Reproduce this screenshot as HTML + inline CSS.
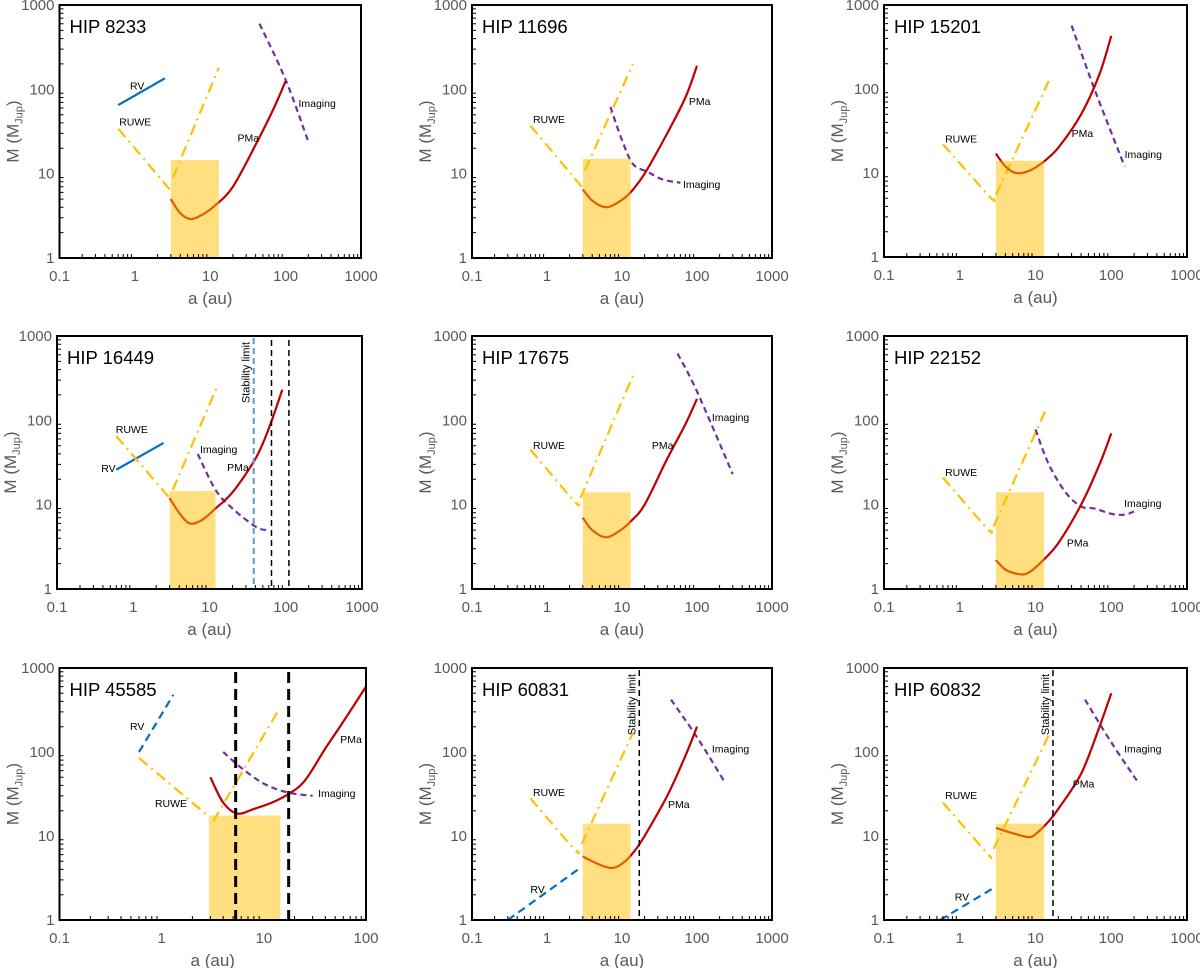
<!DOCTYPE html>
<html><head><meta charset="utf-8"><title>Mass limits</title>
<style>html,body{margin:0;padding:0;background:#fff}svg{display:block}text{font-family:"Liberation Sans",Arial,sans-serif}</style>
</head><body>
<svg id="fig" width="1200" height="968" viewBox="0 0 1200 968" xmlns="http://www.w3.org/2000/svg"></svg>
<script>
// ---- data (a in au, M in MJup) ----
const xTicks1000 = ["0.1","1","10","100","1000"];
const xTicks100 = ["0.1","1","10","100"];
const yTicks = ["1","10","100","1000"];

const p1Rv = [[0.6,65],[2.5,135]];
const p1RuweL = [[0.6,34],[2.9,6.5]];
const p1RuweR = [[3.2,9],[13,180]];
const p1Pma = [[3,5],[4,3.4],[5.5,2.9],[8,3.3],[12,4.3],[20,7],[40,22],[70,60],[100,125]];
const p1Img = [[45,600],[100,130],[200,24]];
const p1Rect = [3,13,14.5];

const p2RuweL = [[0.6,37],[2.9,7]];
const p2RuweR = [[3.2,11],[14,200]];
const p2Pma = [[3,6.5],[4,4.8],[6,4],[9,4.6],[13,6],[20,10],[40,30],[70,80],[100,190]];
const p2Img = [[7,62],[10,25],[14,13],[22,10.5],[35,8.5],[60,7.8]];
const p2Rect = [3,13,15];

const p3RuweL = [[0.6,22],[2.5,5.2],[2.8,5]];
const p3RuweR = [[3,5.5],[15,125]];
const p3Pma = [[3,17],[4,12],[5.5,10],[8,10.5],[12,13],[20,20],[40,50],[70,150],[100,430]];
const p3Img = [[30,570],[60,100],[150,12]];
const p3Rect = [3,13,14];

const p4Rv = [[0.6,26],[2.5,54]];
const p4RuweL = [[0.6,65],[3,12]];
const p4RuweR = [[3.3,15],[13,270]];
const p4Pma = [[3,12],[4,8],[5.5,6],[8,6.6],[12,9],[20,14],[40,35],[60,80],[90,230]];
const p4Img = [[7,40],[12,15],[20,9],[40,5.5],[55,5]];
const p4Rect = [3,12,14.5];
const p4Stab = [38];
const p4Vl = [65,110];

const p5RuweL = [[0.6,45],[2.3,11],[2.6,10.5]];
const p5RuweR = [[2.8,12],[14,340]];
const p5Pma = [[3,7],[4,5],[6,4.1],[9,4.8],[13,6.3],[20,10],[40,35],[70,90],[100,180]];
const p5Img = [[55,620],[100,220],[300,23]];
const p5Rect = [3,13,14];

const p6RuweL = [[0.6,21],[2.3,5.2],[2.6,5]];
const p6RuweR = [[2.8,5.5],[14,140]];
const p6Pma = [[3,2.2],[4,1.7],[6,1.5],[8,1.55],[12,2.1],[20,3.5],[40,10],[70,30],[100,70]];
const p6Img = [[10,78],[15,30],[25,14],[40,9.5],[60,9],[100,7.8],[150,7.6],[200,8.3]];
const p6Rect = [3,13,14];

const p7Rv = [[0.6,100],[1.3,480]];
const p7RuweL = [[0.6,85],[2.9,17]];
const p7RuweR = [[3.2,15],[14,320]];
const p7Pma = [[3,50],[4,25],[5.5,18.5],[8,21],[12,25],[17,31],[25,45],[40,110],[60,230],[100,600]];
const p7Img = [[4,100],[6,65],[10,42],[17,33],[30,30]];
const p7Rect = [2.9,14.5,17.5];
const p7Vl = [5.3,17.5];

const p8Rv = [[0.3,1],[2.7,4.1]];
const p8RuweL = [[0.6,28],[2.3,7],[2.6,6.7]];
const p8RuweR = [[2.9,8],[14,170]];
const p8Pma = [[3,5.7],[4,5],[6,4.3],[8,4.2],[11,5],[15,6.8],[20,10],[40,30],[70,90],[100,200]];
const p8Img = [[45,420],[100,150],[230,45]];
const p8Rect = [3,13,14];
const p8Stab = [17];

const p9Rv = [[0.55,1],[3,2.5]];
const p9RuweL = [[0.6,25],[2.3,6.2],[2.5,5.8]];
const p9RuweR = [[2.8,7],[16,180]];
const p9Pma = [[3,12.5],[5,10.8],[8,9.7],[10,10.5],[15,15],[20,21],[40,55],[70,200],[100,500]];
const p9Img = [[45,420],[100,130],[220,45]];
const p9Rect = [3,13,14];
const p9Stab = [17];

const panels = [
 {t:"HIP 8233", L:59.5,R:361,T:5,B:258, xmax:3, xt:xTicks1000, rv:p1Rv, rvDash:false, rl:p1RuweL, rr:p1RuweR, pma:p1Pma, img:p1Img, rect:p1Rect,
  labels:[["RV",0.86,100],["RUWE",0.62,37],["PMa",23,24],["Imaging",148,62]]},
 {t:"HIP 11696", L:472,R:772,T:5,B:258, xmax:3, xt:xTicks1000, rl:p2RuweL, rr:p2RuweR, pma:p2Pma, img:p2Img, rect:p2Rect,
  labels:[["RUWE",0.65,40],["PMa",78,65],["Imaging",65,6.8]]},
 {t:"HIP 15201", L:884,R:1187,T:5,B:257, xmax:3, xt:xTicks1000, rl:p3RuweL, rr:p3RuweR, pma:p3Pma, img:p3Img, rect:p3Rect,
  labels:[["RUWE",0.64,23],["PMa",30,27],["Imaging",150,15]]},
 {t:"HIP 16449", L:57,R:362,T:336,B:589, xmax:3, xt:xTicks1000, rv:p4Rv, rvDash:false, rl:p4RuweL, rr:p4RuweR, pma:p4Pma, img:p4Img, rect:p4Rect, stab:p4Stab, stabBlue:true, vl:p4Vl, vlw:1.5,
  labels:[["RUWE",0.59,71],["RV",0.38,24.5],["Imaging",7.5,41],["PMa",17,25]]},
 {t:"HIP 17675", L:472,R:772,T:336,B:589, xmax:3, xt:xTicks1000, rl:p5RuweL, rr:p5RuweR, pma:p5Pma, img:p5Img, rect:p5Rect,
  labels:[["RUWE",0.65,46],["PMa",25,46],["Imaging",158,98]]},
 {t:"HIP 22152", L:884,R:1187,T:336,B:589, xmax:3, xt:xTicks1000, rl:p6RuweL, rr:p6RuweR, pma:p6Pma, img:p6Img, rect:p6Rect,
  labels:[["RUWE",0.64,22],["PMa",26,3.2],["Imaging",148,9.4]]},
 {t:"HIP 45585", L:59.5,R:366,T:668,B:920, xmax:2, xt:xTicks100, rv:p7Rv, rvDash:true, rl:p7RuweL, rr:p7RuweR, pma:p7Pma, img:p7Img, rect:p7Rect, vl:p7Vl, vlw:3,
  labels:[["RV",0.49,182],["RUWE",0.86,22],["PMa",56,128],["Imaging",34,29]]},
 {t:"HIP 60831", L:472,R:772,T:668,B:920, xmax:3, xt:xTicks1000, rv:p8Rv, rvDash:true, rl:p8RuweL, rr:p8RuweR, pma:p8Pma, img:p8Img, rect:p8Rect, stab:p8Stab,
  labels:[["RUWE",0.65,30],["RV",0.6,2.1],["PMa",41,21.6],["Imaging",158,98]]},
 {t:"HIP 60832", L:884,R:1187,T:668,B:920, xmax:3, xt:xTicks1000, rv:p9Rv, rvDash:true, rl:p9RuweL, rr:p9RuweR, pma:p9Pma, img:p9Img, rect:p9Rect, stab:p9Stab,
  labels:[["RUWE",0.64,27.5],["RV",0.86,1.7],["PMa",31,38],["Imaging",148,98]]}
];

const NS = "http://www.w3.org/2000/svg";
const fig = document.getElementById("fig");
function el(tag, parent){ const e=document.createElementNS(NS,tag); parent.appendChild(e); return e; }

function smoothPath(pts){
  if(pts.length<3){ return "M"+pts.map(p=>p[0].toFixed(1)+","+p[1].toFixed(1)).join(" L"); }
  let d="M"+pts[0][0].toFixed(1)+","+pts[0][1].toFixed(1);
  for(let i=0;i<pts.length-1;i++){
    const p0=pts[Math.max(0,i-1)],p1=pts[i],p2=pts[i+1],p3=pts[Math.min(pts.length-1,i+2)];
    const c1=[p1[0]+(p2[0]-p0[0])/6,p1[1]+(p2[1]-p0[1])/6];
    const c2=[p2[0]-(p3[0]-p1[0])/6,p2[1]-(p3[1]-p1[1])/6];
    d+=" C"+c1.map(v=>v.toFixed(1)).join(",")+" "+c2.map(v=>v.toFixed(1)).join(",")+" "+p2[0].toFixed(1)+","+p2[1].toFixed(1);
  }
  return d;
}

panels.forEach((P,pi)=>{
  const g = el("g",fig);
  
  
  const xmin=-1, ymin=0, ymax=3;
  const sx = a => P.L + (Math.log10(a)-xmin)/(P.xmax-xmin)*(P.R-P.L);
  const sy = m => P.B - (Math.log10(m)-ymin)/(ymax-ymin)*(P.B-P.T);
  const toPx = arr => arr.map(p=>[sx(p[0]),sy(p[1])]);

  function line(arr, color, w, dash, name, smooth){
    const p = el("path",g);
    
    
    p.setAttribute("d", smooth? smoothPath(toPx(arr)) : "M"+toPx(arr).map(q=>q[0].toFixed(1)+","+q[1].toFixed(1)).join(" L"));
    p.setAttribute("fill","none"); p.setAttribute("stroke",color); p.setAttribute("stroke-width",w);
    if(dash) p.setAttribute("stroke-dasharray",dash);
    return p;
  }
  const clip = el("clipPath",g); clip.id="clip"+pi;
  const cr = el("rect",clip); cr.setAttribute("x",P.L); cr.setAttribute("y",P.T); cr.setAttribute("width",P.R-P.L); cr.setAttribute("height",P.B-P.T);

  if(P.rv) { const r=line(P.rv,"#0070c0",2.2,P.rvDash?"8,5":null,"rv-limit-line",false); r.setAttribute("clip-path","url(#clip"+pi+")"); }
  line(P.rl,"#ffc000",2.2,"11,5,2,5","ruwe-limit-left",true);
  line(P.rr,"#ffc000",2.2,"11,5,2,5","ruwe-limit-right",true);
  line(P.img,"#7030a0",2.2,"6,4","imaging-limit-line",true);
  line(P.pma,"#c00000",2.2,null,"pma-sensitivity-curve",true);

  const rc = el("rect",g);
  
  
  rc.setAttribute("x",sx(P.rect[0])); rc.setAttribute("y",sy(P.rect[2]));
  rc.setAttribute("width",sx(P.rect[1])-sx(P.rect[0])); rc.setAttribute("height",P.B-sy(P.rect[2]));
  rc.setAttribute("fill","#ffc000"); rc.setAttribute("fill-opacity","0.5");

  (P.vl||[]).forEach(v=>{
    const l=el("line",g);
    
    
    l.setAttribute("x1",sx(v)); l.setAttribute("x2",sx(v)); l.setAttribute("y1",P.T+4); l.setAttribute("y2",P.B);
    l.setAttribute("stroke","#000"); l.setAttribute("stroke-width",P.vlw||1.5);
    l.setAttribute("stroke-dasharray",P.vlw>2?"11,6":"6,4");
  });
  (P.stab||[]).forEach(v=>{
    const l=el("line",g);
    
    
    l.setAttribute("x1",sx(v)); l.setAttribute("x2",sx(v)); l.setAttribute("y1",P.T+2); l.setAttribute("y2",P.B);
    l.setAttribute("stroke",P.stabBlue?"#5b9bd5":"#000"); l.setAttribute("stroke-width",P.stabBlue?2:1.5);
    l.setAttribute("stroke-dasharray","6,4");
    const t=el("text",g);
    
    
    const tx=sx(v)-4, ty=P.T+6;
    t.setAttribute("transform","translate("+tx+","+ty+") rotate(-90)");
    t.setAttribute("text-anchor","end"); t.setAttribute("font-size","11"); t.setAttribute("fill","#000");
    t.textContent="Stability limit";
  });

  const bx=el("rect",g);
  
  
  bx.setAttribute("x",P.L); bx.setAttribute("y",P.T); bx.setAttribute("width",P.R-P.L); bx.setAttribute("height",P.B-P.T);
  bx.setAttribute("fill","none"); bx.setAttribute("stroke","#000"); bx.setAttribute("stroke-width","2");

  let td="";
  for(let d=xmin; d<P.xmax; d++){
    for(let k=2;k<10;k++){
      const x=sx(Math.pow(10,d)*k);
      td+="M"+x.toFixed(1)+","+P.B+" v-4 ";
    }
  }
  for(let d=ymin; d<ymax; d++){
    for(let k=2;k<10;k++){
      const y=sy(Math.pow(10,d)*k);
      td+="M"+P.L+","+y.toFixed(1)+" h4 ";
    }
  }
  const tk=el("path",g);
  
  
  tk.setAttribute("d",td); tk.setAttribute("stroke","#000"); tk.setAttribute("stroke-width","1");

  P.xt.forEach(s=>{
    const t=el("text",g);
    
    
    t.setAttribute("x",sx(parseFloat(s))); t.setAttribute("y",P.B+23);
    t.setAttribute("text-anchor","middle"); t.setAttribute("font-size","15"); t.setAttribute("fill","#595959");
    t.textContent=s;
  });
  yTicks.forEach(s=>{
    const t=el("text",g);
    
    
    t.setAttribute("x",P.L-5); t.setAttribute("y",sy(parseFloat(s))+5);
    t.setAttribute("text-anchor","end"); t.setAttribute("font-size","15"); t.setAttribute("fill","#595959");
    t.textContent=s;
  });
  const xt=el("text",g);
  
  
  xt.setAttribute("x",(P.L+P.R)/2); xt.setAttribute("y",P.B+46);
  xt.setAttribute("text-anchor","middle"); xt.setAttribute("font-size","17"); xt.setAttribute("fill","#595959");
  xt.textContent="a (au)";
  const yt=el("text",g);
  
  
  yt.setAttribute("transform","translate("+(P.L-41)+","+((P.T+P.B)/2)+") rotate(-90)");
  yt.setAttribute("text-anchor","middle"); yt.setAttribute("font-size","17"); yt.setAttribute("fill","#595959");
  yt.innerHTML='M (M<tspan font-size="11" dy="4">Jup</tspan><tspan dy="-4">)</tspan>';

  const tt=el("text",g);
  
  
  tt.setAttribute("x",P.L+10); tt.setAttribute("y",P.T+28);
  tt.setAttribute("font-size","18.5"); tt.setAttribute("fill","#000");
  tt.textContent=P.t;

  P.labels.forEach(L=>{
    const t=el("text",g);
    
    
    t.setAttribute("x",sx(L[1])); t.setAttribute("y",sy(L[2]));
    t.setAttribute("font-size","10.5"); t.setAttribute("fill","#000");
    t.textContent=L[0];
  });
});
</script>
</body></html>
